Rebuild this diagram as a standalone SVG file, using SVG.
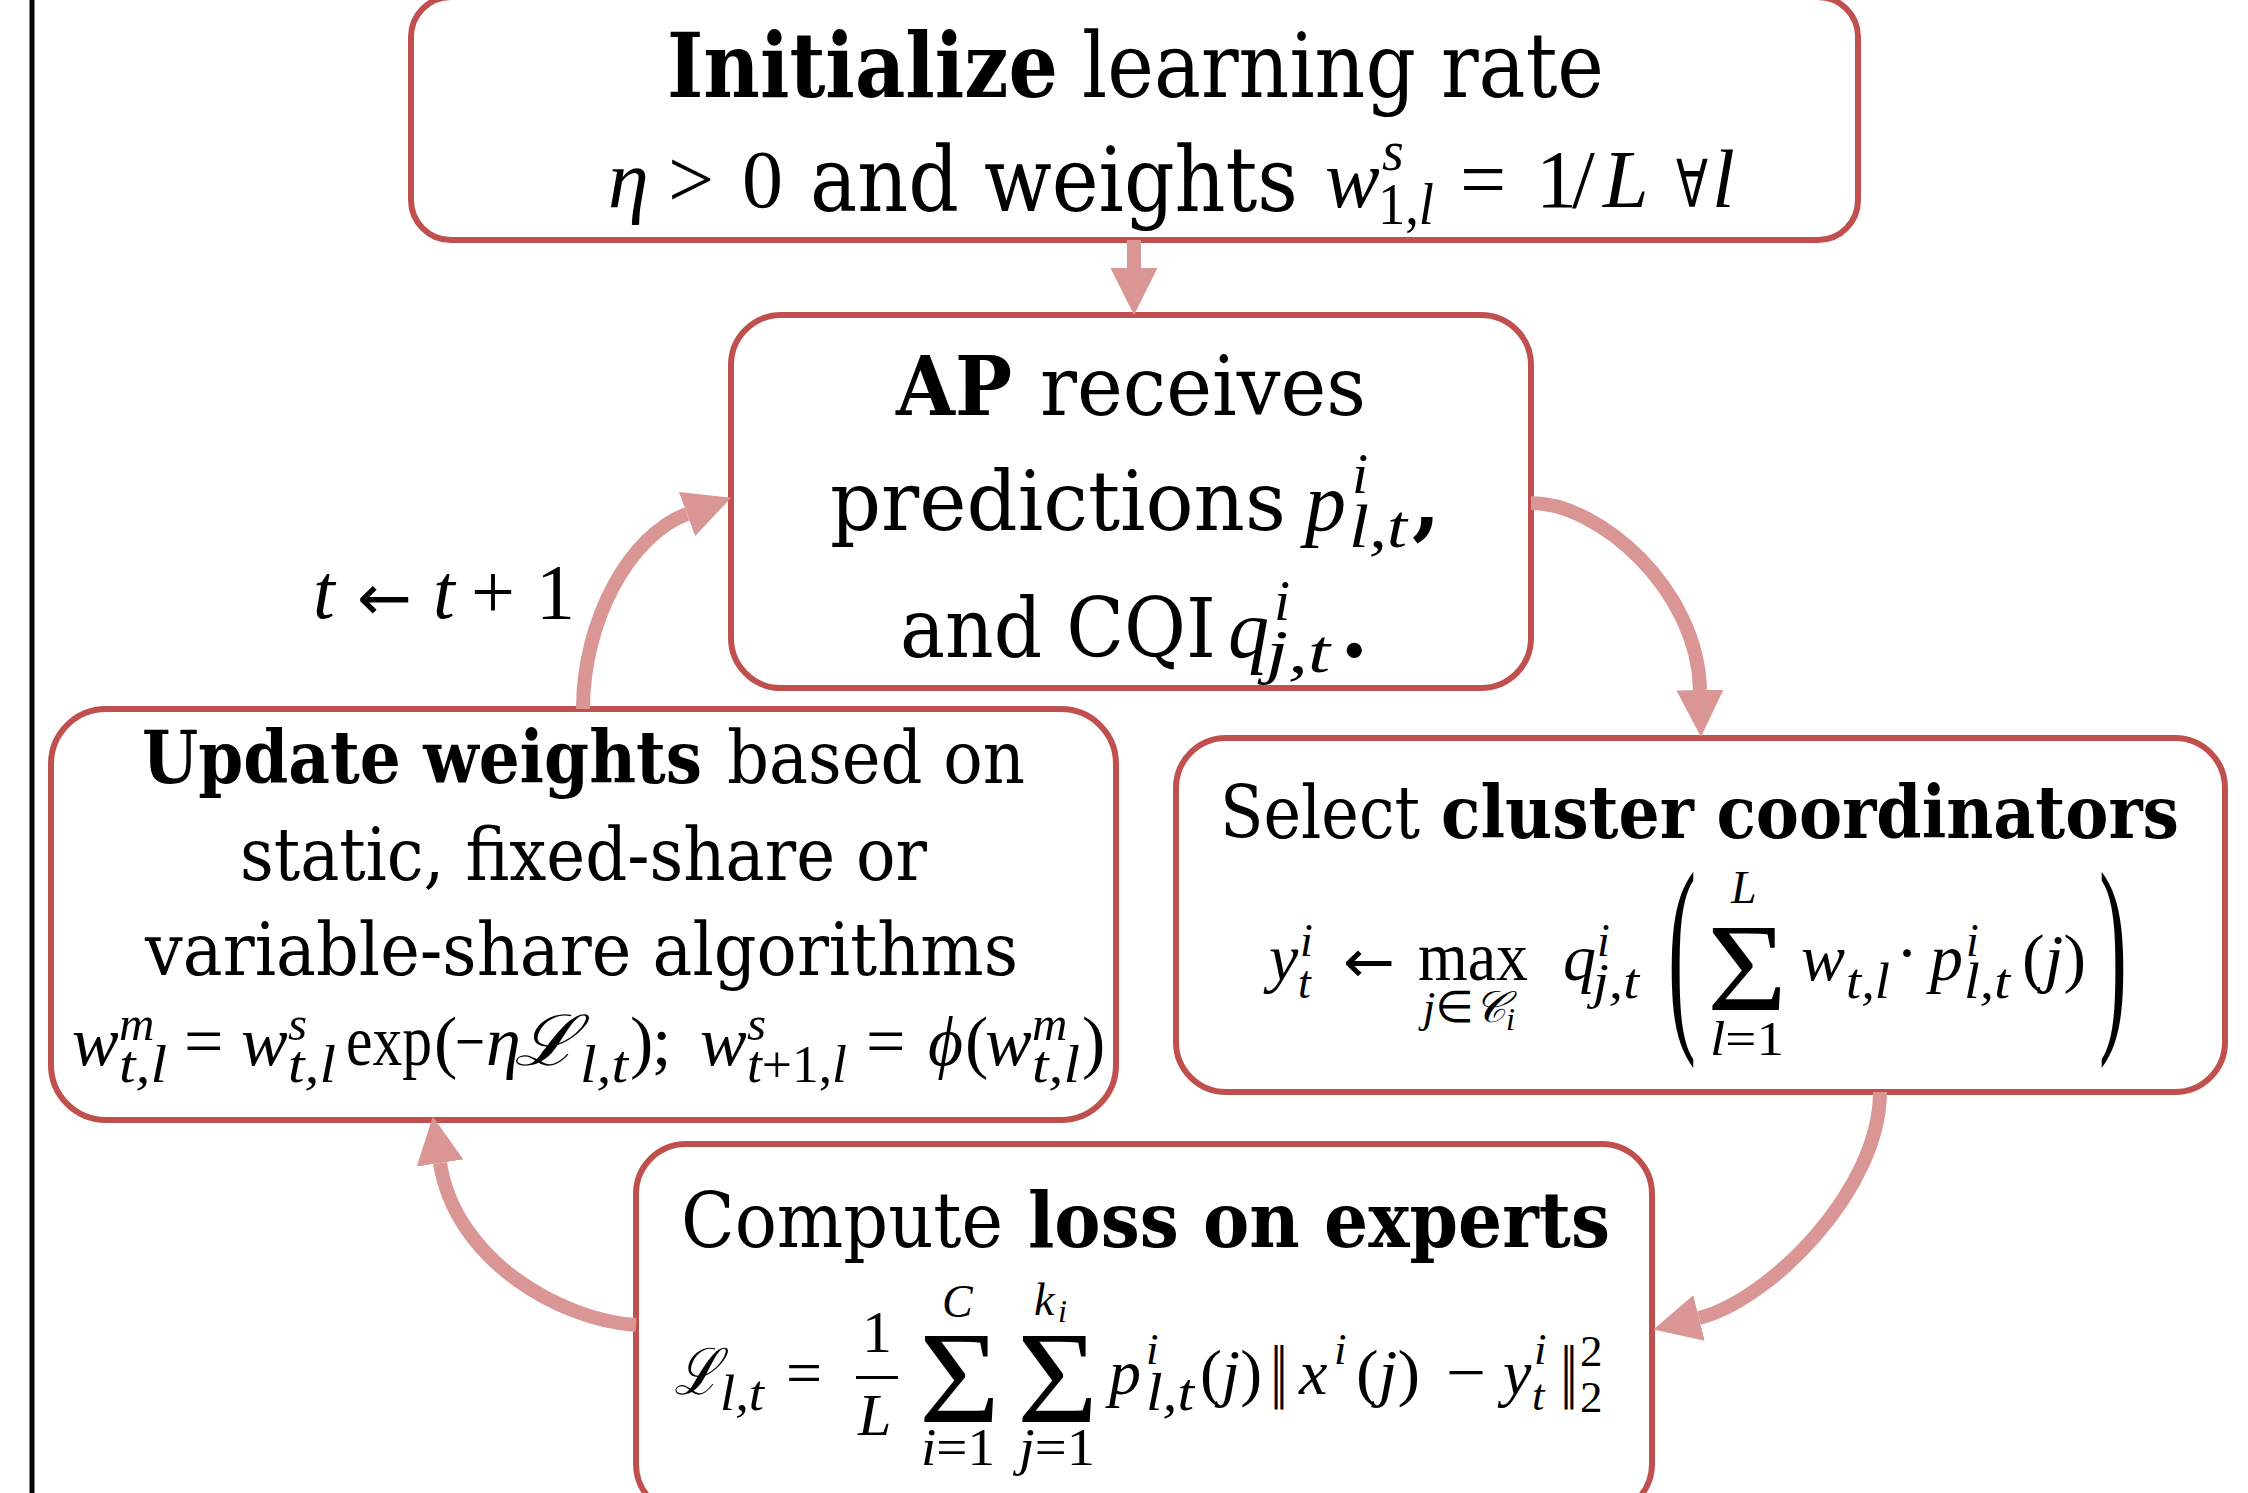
<svg xmlns="http://www.w3.org/2000/svg" width="2248" height="1493" viewBox="0 0 2248 1493">
<defs>
<style>
.box{fill:#fff;stroke:#C0504D;stroke-width:6}
.arr{fill:none;stroke:#D99694;stroke-width:14;marker-end:url(#ah)}
.tx{font-family:"DejaVu Serif","Liberation Serif",serif;fill:#000}
.bd{font-weight:bold}
.mi{font-family:"Liberation Serif","DejaVu Serif",serif;font-style:italic;fill:#000}
.mr{font-family:"Liberation Serif","DejaVu Serif",serif;font-style:normal;fill:#000}
.sy{font-family:"DejaVu Sans","Liberation Sans",sans-serif;font-style:normal;fill:#000}
</style>
<marker id="ah" markerUnits="userSpaceOnUse" viewBox="0 0 47 47" refX="0" refY="23.5" markerWidth="47" markerHeight="47" orient="auto"><path d="M0,0 L47,23.5 L0,47 z" fill="#D99694"/></marker>
</defs>
<rect x="0" y="0" width="2248" height="1493" fill="#fff"/>
<line x1="32" y1="0" x2="32" y2="1493" stroke="#000" stroke-width="5"/>

<g id="node-init">
<rect class="box" x="411" y="-3" width="1447" height="243" rx="40"/>
<text class="tx bd" x="667" y="97" font-size="90" textLength="391" lengthAdjust="spacingAndGlyphs">Initialize</text>
<text class="tx" x="1082" y="97" font-size="90" textLength="522" lengthAdjust="spacingAndGlyphs">learning rate</text>
<text class="mi" x="608" y="207" font-size="82">η</text>
<text class="mr" x="668" y="207" font-size="82">&gt;</text>
<text class="mr" x="742" y="207" font-size="82">0</text>
<text class="tx" x="810" y="211" font-size="90" textLength="488" lengthAdjust="spacingAndGlyphs">and weights</text>
<text class="mi" x="1325" y="207" font-size="82">w</text>
<text class="mi" x="1382" y="170" font-size="56">s</text>
<text class="mr" x="1378" y="224" font-size="60" textLength="56" lengthAdjust="spacingAndGlyphs">1,<tspan class="mi">l</tspan></text>
<text class="mr" x="1460" y="207" font-size="82">=</text>
<text class="mr" x="1536" y="207" font-size="82">1</text>
<text class="mr" x="1572" y="207" font-size="82">/</text>
<text class="mi" x="1603" y="207" font-size="82">L</text>
<text class="sy" x="1676" y="207" font-size="66" textLength="32" lengthAdjust="spacingAndGlyphs">∀</text>
<text class="mi" x="1712" y="207" font-size="82">l</text>
</g>

<g id="node-ap">
<rect class="box" x="731" y="315" width="800" height="373" rx="50"/>
<text class="tx bd" x="896" y="415" font-size="82" textLength="116" lengthAdjust="spacingAndGlyphs">AP</text>
<text class="tx" x="1040" y="415" font-size="82" textLength="326" lengthAdjust="spacingAndGlyphs">receives</text>
<text class="tx" x="830" y="530" font-size="82" textLength="456" lengthAdjust="spacingAndGlyphs">predictions</text>
<text class="mi" x="1305" y="530" font-size="82">p</text>
<text class="mi" x="1352" y="493" font-size="58">i</text>
<text class="mi" x="1349" y="547" font-size="62" textLength="58" lengthAdjust="spacingAndGlyphs">l,t</text>
<text class="tx bd" x="1412" y="530" font-size="82">,</text>
<text class="tx" x="900" y="657" font-size="82" textLength="316" lengthAdjust="spacingAndGlyphs">and CQI</text>
<text class="mi" x="1228" y="657" font-size="82">q</text>
<text class="mi" x="1274" y="620" font-size="58">i</text>
<text class="mi" x="1266" y="672" font-size="62" textLength="64" lengthAdjust="spacingAndGlyphs">j,t</text>
<text class="tx bd" x="1340" y="657" font-size="82">.</text>
</g>

<g id="node-update">
<rect class="box" x="51" y="709" width="1065" height="411" rx="55"/>
<text class="tx bd" x="142" y="783" font-size="72" textLength="560" lengthAdjust="spacingAndGlyphs">Update weights</text>
<text class="tx" x="727" y="783" font-size="72" textLength="298" lengthAdjust="spacingAndGlyphs">based on</text>
<text class="tx" x="240" y="880" font-size="72" textLength="687" lengthAdjust="spacingAndGlyphs">static, fixed-share or</text>
<text class="tx" x="145" y="975" font-size="72" textLength="873" lengthAdjust="spacingAndGlyphs">variable-share algorithms</text>
<text class="mi" x="72" y="1065" font-size="70">w</text>
<text class="mi" x="119" y="1040" font-size="49">m</text>
<text class="mi" x="119" y="1082" font-size="53" textLength="48" lengthAdjust="spacingAndGlyphs">t,l</text>
<text class="mr" x="184" y="1065" font-size="70">=</text>
<text class="mi" x="241" y="1065" font-size="70">w</text>
<text class="mi" x="288" y="1040" font-size="49">s</text>
<text class="mi" x="288" y="1082" font-size="53" textLength="48" lengthAdjust="spacingAndGlyphs">t,l</text>
<text class="mr" x="346" y="1065" font-size="72" textLength="86" lengthAdjust="spacingAndGlyphs">exp</text>
<text class="mr" x="434" y="1065" font-size="70">(</text>
<text class="mr" x="455" y="1065" font-size="70" textLength="30" lengthAdjust="spacingAndGlyphs">−</text>
<text class="mi" x="486" y="1065" font-size="70">η</text>
<text class="mi" x="514" y="1065" font-size="70" textLength="64" lengthAdjust="spacingAndGlyphs">ℒ</text>
<text class="mi" x="580" y="1082" font-size="53" textLength="48" lengthAdjust="spacingAndGlyphs">l,t</text>
<text class="mr" x="630" y="1065" font-size="70">)</text>
<text class="mr" x="652" y="1065" font-size="70">;</text>
<text class="mi" x="700" y="1065" font-size="70">w</text>
<text class="mi" x="747" y="1040" font-size="49">s</text>
<text class="mi" x="747" y="1082" font-size="52" textLength="100" lengthAdjust="spacingAndGlyphs">t<tspan class="mr">+1,</tspan>l</text>
<text class="mr" x="866" y="1065" font-size="70">=</text>
<text class="mi" x="928" y="1065" font-size="70" textLength="35" lengthAdjust="spacingAndGlyphs">ϕ</text>
<text class="mr" x="965" y="1065" font-size="70">(</text>
<text class="mi" x="985" y="1065" font-size="70">w</text>
<text class="mi" x="1032" y="1040" font-size="49">m</text>
<text class="mi" x="1032" y="1082" font-size="53" textLength="48" lengthAdjust="spacingAndGlyphs">t,l</text>
<text class="mr" x="1082" y="1065" font-size="70">)</text>
</g>

<g id="node-select">
<rect class="box" x="1176" y="738" width="1049" height="354" rx="50"/>
<text class="tx" x="1220" y="838" font-size="72" textLength="200" lengthAdjust="spacingAndGlyphs">Select</text>
<text class="tx bd" x="1441" y="838" font-size="72" textLength="738" lengthAdjust="spacingAndGlyphs">cluster coordinators</text>
<text class="mi" x="1269" y="980" font-size="66">y</text>
<text class="mi" x="1300" y="956" font-size="46">i</text>
<text class="mi" x="1298" y="998" font-size="46">t</text>
<text class="sy" x="1343" y="982" font-size="60" textLength="52" lengthAdjust="spacingAndGlyphs">←</text>
<text class="mr" x="1418" y="980" font-size="70" textLength="110" lengthAdjust="spacingAndGlyphs">max</text>
<text class="mi" x="1423" y="1022" font-size="44">j<tspan class="sy">∈</tspan>𝒞</text>
<text class="mi" x="1506" y="1030" font-size="32">i</text>
<text class="mi" x="1563" y="980" font-size="66">q</text>
<text class="mi" x="1597" y="956" font-size="46">i</text>
<text class="mi" x="1593" y="998" font-size="50" textLength="46" lengthAdjust="spacingAndGlyphs">j,t</text>
<text class="mr" font-size="60" transform="translate(1668,1022) scale(1.4,3.6)">(</text>
<text class="mr" x="1707" y="1010" font-size="124" textLength="80" lengthAdjust="spacingAndGlyphs">Σ</text>
<text class="mi" x="1731" y="903" font-size="46">L</text>
<text class="mi" x="1710" y="1055" font-size="48" textLength="74" lengthAdjust="spacingAndGlyphs">l<tspan class="mr">=1</tspan></text>
<text class="mi" x="1801" y="980" font-size="66">w</text>
<text class="mi" x="1846" y="998" font-size="50" textLength="44" lengthAdjust="spacingAndGlyphs">t,l</text>
<text class="mr" x="1896" y="975" font-size="66">·</text>
<text class="mi" x="1930" y="980" font-size="66">p</text>
<text class="mi" x="1966" y="956" font-size="46">i</text>
<text class="mi" x="1964" y="998" font-size="50" textLength="46" lengthAdjust="spacingAndGlyphs">l,t</text>
<text class="mr" x="2022" y="980" font-size="66" textLength="64" lengthAdjust="spacingAndGlyphs">(<tspan class="mi">j</tspan>)</text>
<text class="mr" font-size="60" transform="translate(2099,1022) scale(1.4,3.6)">)</text>
</g>

<g id="node-compute">
<rect class="box" x="636" y="1144" width="1016" height="370" rx="50"/>
<text class="tx" x="681" y="1247" font-size="76" textLength="322" lengthAdjust="spacingAndGlyphs">Compute</text>
<text class="tx bd" x="1028" y="1247" font-size="76" textLength="582" lengthAdjust="spacingAndGlyphs">loss on experts</text>
<text class="mi" x="674" y="1394" font-size="64" textLength="46" lengthAdjust="spacingAndGlyphs">ℒ</text>
<text class="mi" x="720" y="1410" font-size="50" textLength="44" lengthAdjust="spacingAndGlyphs">l,t</text>
<text class="mr" x="786" y="1394" font-size="64">=</text>
<text class="mr" x="862" y="1352" font-size="60">1</text>
<rect x="856" y="1376" width="42" height="3" fill="#000"/>
<text class="mi" x="858" y="1435" font-size="60">L</text>
<text class="mr" x="919" y="1422" font-size="131" textLength="81" lengthAdjust="spacingAndGlyphs">Σ</text>
<text class="mi" x="942" y="1317" font-size="46">C</text>
<text class="mi" x="921" y="1465" font-size="52" textLength="74" lengthAdjust="spacingAndGlyphs">i<tspan class="mr">=1</tspan></text>
<text class="mr" x="1017" y="1422" font-size="131" textLength="81" lengthAdjust="spacingAndGlyphs">Σ</text>
<text class="mi" x="1034" y="1315" font-size="46">k</text>
<text class="mi" x="1058" y="1322" font-size="32">i</text>
<text class="mi" x="1019" y="1465" font-size="52" textLength="76" lengthAdjust="spacingAndGlyphs">j<tspan class="mr">=1</tspan></text>
<text class="mi" x="1109" y="1394" font-size="64">p</text>
<text class="mi" x="1146" y="1364" font-size="45">i</text>
<text class="mi" x="1146" y="1410" font-size="52" textLength="48" lengthAdjust="spacingAndGlyphs">l,t</text>
<text class="mr" x="1200" y="1394" font-size="64" textLength="62" lengthAdjust="spacingAndGlyphs">(<tspan class="mi">j</tspan>)</text>
<text class="sy" x="1270" y="1394" font-size="64" textLength="18" lengthAdjust="spacingAndGlyphs">‖</text>
<text class="mi" x="1299" y="1394" font-size="64">x</text>
<text class="mi" x="1334" y="1364" font-size="45">i</text>
<text class="mr" x="1356" y="1394" font-size="64" textLength="64" lengthAdjust="spacingAndGlyphs">(<tspan class="mi">j</tspan>)</text>
<text class="mr" x="1446" y="1394" font-size="64" textLength="40" lengthAdjust="spacingAndGlyphs">−</text>
<text class="mi" x="1503" y="1394" font-size="64">y</text>
<text class="mi" x="1534" y="1364" font-size="45">i</text>
<text class="mi" x="1532" y="1410" font-size="45">t</text>
<text class="sy" x="1560" y="1394" font-size="64" textLength="18" lengthAdjust="spacingAndGlyphs">‖</text>
<text class="mr" x="1580" y="1366" font-size="45">2</text>
<text class="mr" x="1580" y="1412" font-size="45">2</text>
</g>

<g id="label-iter">
<text class="mi" x="313" y="618" font-size="78">t</text>
<text class="sy" x="357" y="620" font-size="64" textLength="55" lengthAdjust="spacingAndGlyphs">←</text>
<text class="mi" x="433" y="618" font-size="78">t</text>
<text class="mr" x="471" y="618" font-size="78">+</text>
<text class="mr" x="536" y="618" font-size="78">1</text>
</g>

<g id="connectors">
<path class="arr" d="M1134,240 L1134,268"/>
<path class="arr" d="M1531,503 C1600,503 1698,590 1700,690"/>
<path class="arr" d="M1880,1092 C1880,1190 1770,1300 1699,1318"/>
<path class="arr" d="M636,1325 C560,1320 455,1260 440,1163"/>
<path class="arr" d="M583,709 C583,620 630,535 687,514"/>
</g>
</svg>
